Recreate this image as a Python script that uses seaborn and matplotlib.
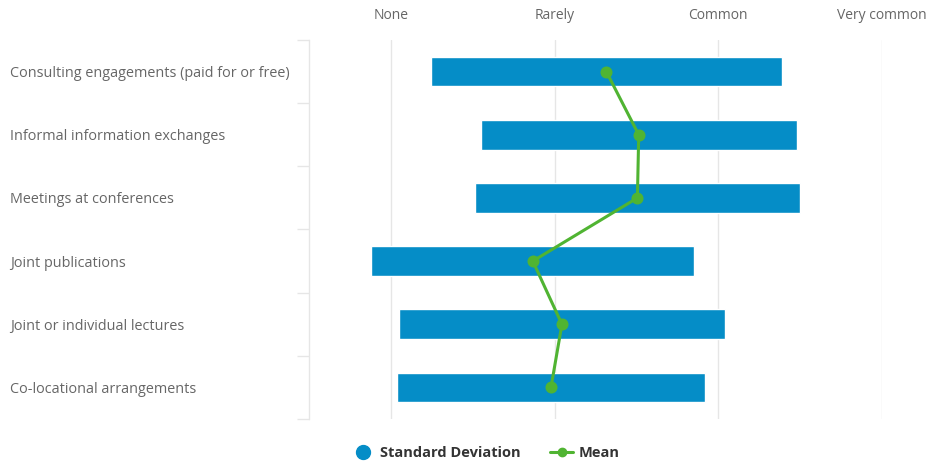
import matplotlib
matplotlib.use("Agg")
import matplotlib.pyplot as plt
from matplotlib.lines import Line2D
import seaborn as sns
import pandas as pd

# Collaboration channels and their rated frequency (1 = None ... 4 = Very common)
categories = [
    "Consulting engagements (paid for or free)",
    "Informal information exchanges",
    "Meetings at conferences",
    "Joint publications",
    "Joint or individual lectures",
    "Co-locational arrangements",
]
mean_values = [2.316, 2.514, 2.506, 1.867, 2.045, 1.978]
std_values = [1.072, 0.965, 0.993, 0.987, 0.994, 0.941]
scale_labels = ["None", "Rarely", "Common", "Very common"]
scale_positions = [1, 2, 3, 4]

BLUE = "#058DC7"
GREEN = "#50B432"
GRID = "#E6E6E6"
LABEL = "#666666"

sns.set_theme(style="white")
plt.rcParams["font.family"] = ["Open Sans", "DejaVu Sans"]

df = pd.DataFrame({"channel": categories, "mean": mean_values, "sd": std_values})
df["low"] = df["mean"] - df["sd"]
df["span"] = 2 * df["sd"]

fig = plt.figure(figsize=(9.3, 4.61), dpi=100)
ax = fig.add_axes([309 / 930, 42 / 461, (882 - 309) / 930, (419 - 40) / 461])

# Mean line with markers
sns.pointplot(data=df, x="mean", y="channel", orient="h", color=GREEN,
              markers="o", markersize=7, linewidth=2.2, ax=ax, zorder=5)

# Floating bars: mean +/- one standard deviation
ypos = list(range(len(categories)))
ax.barh(ypos, df["span"], left=df["low"], height=0.47, color=BLUE, zorder=2)

for ln in ax.lines:
    ln.set_zorder(5)
for coll in ax.collections:
    coll.set_zorder(6)

ax.set_xlim(0.5, 4.0)
ax.set_ylim(len(categories) - 0.5, -0.5)

# Top scale
ax.xaxis.tick_top()
ax.set_xticks(scale_positions)
ax.set_xticklabels(scale_labels, color=LABEL, fontsize=10)
ax.tick_params(axis="x", length=0, pad=12)
ax.set_xlabel("")
ax.grid(axis="x", color=GRID, linewidth=1)
ax.set_axisbelow(True)

# Category axis with boundary ticks
ax.set_yticks(ypos)
ax.set_yticklabels(categories, color=LABEL, fontsize=10.4)
ax.set_yticks([i - 0.5 for i in range(len(categories) + 1)], minor=True)
ax.tick_params(axis="y", which="major", length=0, pad=215)
ax.tick_params(axis="y", which="minor", length=8.6, width=1, color=GRID, left=True)
for lbl in ax.get_yticklabels():
    lbl.set_horizontalalignment("left")
ax.set_ylabel("")

for side in ["top", "right", "bottom"]:
    ax.spines[side].set_visible(False)
ax.spines["left"].set_color(GRID)
ax.spines["left"].set_linewidth(1)

handles = [
    Line2D([], [], linestyle="none", marker="o", markersize=10, color=BLUE),
    Line2D([], [], color=GREEN, linewidth=2.2, marker="o", markersize=6),
]
leg = fig.legend(handles, ["Standard Deviation", "Mean"], loc="center",
                 bbox_to_anchor=(0.522, 0.017), ncol=2, frameon=False,
                 prop={"weight": "bold", "size": 10.5}, handlelength=1.6,
                 handletextpad=0.4, columnspacing=2.0)
for t in leg.get_texts():
    t.set_color("#333333")

fig.savefig("out.png", dpi=100)
